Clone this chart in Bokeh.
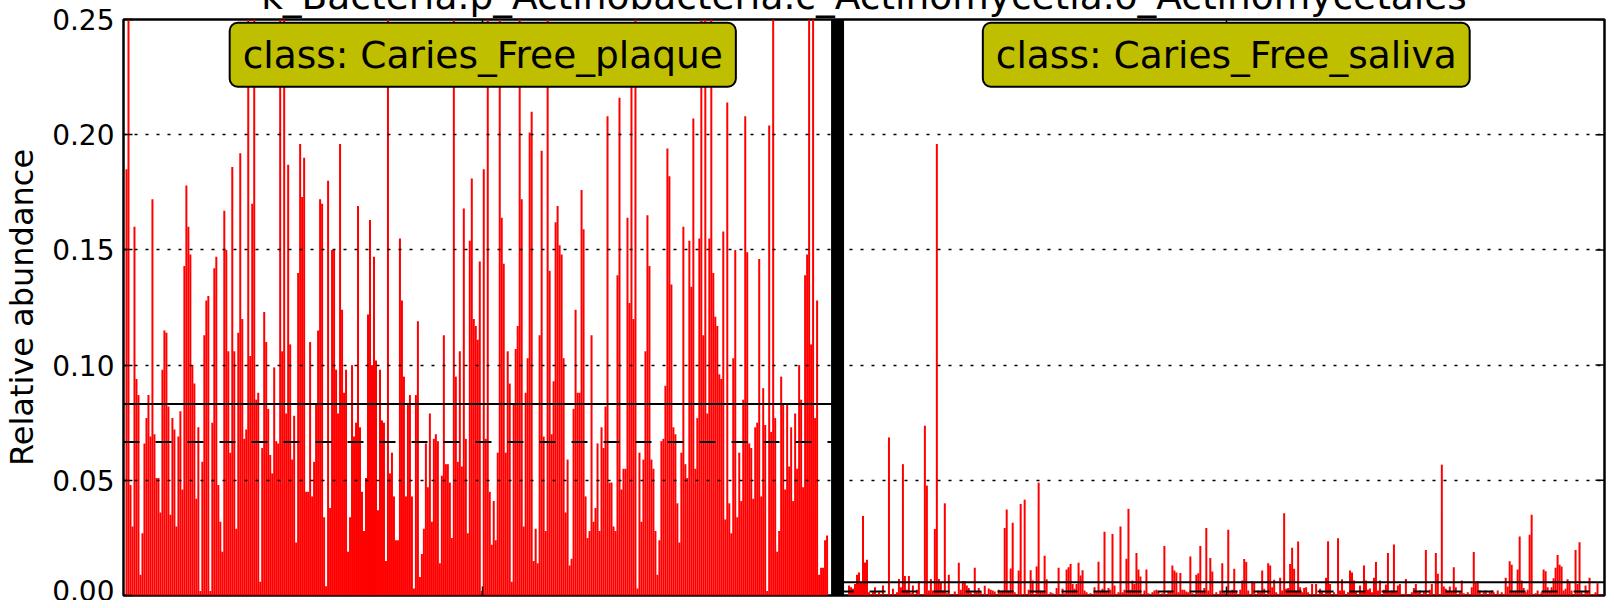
from bokeh.plotting import figure
from bokeh.models import Range1d, FixedTicker, LinearAxis, Label, ColumnDataSource
from bokeh.embed import file_html
from bokeh.resources import INLINE

title_text = "k_Bacteria.p_Actinobacteria.c_Actinomycetia.o_Actinomycetales"
class_names = ["Caries_Free_plaque", "Caries_Free_saliva"]
y_label = "Relative abundance"
y_ticks = [0.0, 0.05, 0.10, 0.15, 0.20, 0.25]
y_tick_labels = ["0.00", "0.05", "0.10", "0.15", "0.20", "0.25"]

# relative abundance per sample, in thousandths (x 1000)
plaque_x1000 = [
    185, 270, 48, 30, 160, 94, 87, 9, 27, 66, 77, 87, 69, 172, 70, 51, 51, 36, 98, 115,
    114, 82, 35, 77, 72, 30, 69, 80, 46, 143, 178, 160, 148, 100, 92, 42, 73, 2, 58, 113,
    128, 130, 2, 75, 142, 147, 48, 32, 19, 167, 150, 106, 62, 186, 106, 29, 114, 192, 120, 68,
    72, 300, 104, 170, 300, 85, 88, 6, 64, 123, 110, 81, 61, 53, 99, 67, 66, 300, 106, 300, 79,
    187, 109, 59, 78, 23, 140, 196, 173, 190, 45, 45, 110, 43, 58, 83, 115, 172, 170, 34, 4,
    180, 38, 150, 150, 98, 79, 196, 124, 88, 98, 19, 34, 100, 69, 75, 169, 73, 45, 28, 51,
    122, 163, 100, 147, 102, 37, 98, 76, 75, 15, 300, 53, 62, 43, 24, 24, 155, 128, 95, 43,
    83, 87, 43, 3, 87, 119, 8, 18, 29, 66, 47, 79, 32, 68, 70, 67, 14, 52, 113, 57,
    57, 49, 25, 300, 95, 58,
    106, 56, 168, 68, 27, 154, 181, 120, 117, 111, 145, 2, 185, 68, 300, 45, 22, 41, 24, 62,
    300, 164, 144, 62, 106, 92, 6, 83, 107, 117, 300, 172, 30, 88, 103, 201, 210, 15, 29, 14,
    113, 193, 69, 28, 300, 141, 70, 93, 162, 169, 152, 148, 103, 36, 59, 13, 16, 81, 124, 88,
    88, 176, 159, 43, 25, 28, 113, 32, 38, 66, 28, 73, 64, 82, 208, 49, 49, 30, 28, 139,
    216, 46, 55, 55, 164, 127, 221, 120, 300, 3, 62, 32,
    59, 106, 165, 143, 59, 55, 28, 9, 24, 67, 68, 91, 194, 182, 135, 73, 70, 40, 23, 62,
    160, 57, 51, 154, 134, 207, 55, 77, 155, 300, 113, 300, 79, 155, 300, 140, 121, 117, 96, 94,
    158, 33, 214, 40, 27, 103, 150, 34, 62, 41, 85, 208, 149, 66, 64, 42, 73, 75, 146, 43,
    90, 74, 2, 204, 71, 300, 77, 19, 28, 95, 83, 46, 83, 56, 73, 41, 79, 55, 100, 85,
    47, 139, 148, 300, 109, 300, 77, 128, 9, 12, 12, 24, 26,
]
saliva_x1000 = [
    4.3, 3.6, 2.9, 5, 9, 10, 6, 34.5, 14.3, 15.5, 1.4, 0.7, 1.4, 3.6, 0.7, 1.4, 0.4, 4.3, 0.4, 0.4,
    68.6, 0.4, 2.9, 0.4, 1.4, 7.2, 3.6, 57, 8.5, 2.5, 8.5, 1, 4.3, 0.4, 2.5, 6.2, 0.4, 0.4, 73.7, 47.7,
    2.2, 7.2, 2.2, 28.9, 196, 7.2, 5.8, 2.2, 40, 1, 9, 0.7, 0.4, 1.7, 0.4, 14.2, 2.5, 6.2, 6.2, 4.3,
    3.3, 1.4, 0.4, 12, 1.4, 3.3, 1.4, 0.4, 4.2, 0.4, 3, 2.5, 2.2, 1.7, 0.4, 2.5, 1.4, 2.2, 29.3, 37.3,
    2.2, 11.7, 31.6, 1.4, 0.7, 10.8, 39.7, 0.7, 41.6, 0.4, 2.5, 11, 6.5, 0.7, 12.6, 49, 2.2, 1.4, 17.3, 7,
    0.4, 1.4, 1, 0.4, 3.3, 12, 0.4, 2.9, 1, 11.3, 12.3, 13.7, 5, 2.9, 5, 14.2, 8.7, 11, 2.2, 1.4,
    0.4, 1, 0.4, 3.6, 1.4, 14.7, 2.2, 2.9, 27.7, 1.4, 3.3, 2.5, 26.7, 4.3, 0.4, 1.4, 29.9, 1.4, 2.5, 15.9,
    37.6, 2.5, 6.5, 5, 18.5, 11.3, 8.2, 0.4, 2.2, 11.3, 1, 0.4, 1.4, 2.2, 2.5, 1.7, 0.4, 1, 21.5, 0.4,
    2.2, 1.7, 13, 10.8, 10, 1.4, 9.8, 2.5, 2.5, 1.7, 1.4, 16.9, 1, 0.4, 9, 9.7, 21.5, 1.4, 3.3, 29.3,
    2.2, 16.3, 10.4, 0.4, 1.4, 0.4, 2.2, 14, 1.4, 0.4,
    28.5, 1.4, 2.5, 11.6, 2.2, 0.4, 2.5, 6.5, 15.8, 14.5, 2.2, 0.4, 6.2, 5.8, 0.4, 2.2, 1.4, 10.8, 2.9,
    0.4, 14, 13, 3.6, 6.8, 1.4, 0.4, 7.7, 2.2, 35.7, 2.9, 3.3, 13.7, 20.7, 11.6, 2.2, 23.4, 3.6, 1.4, 3.3,
    3.6, 1.4, 0.4, 5, 0.4, 5, 0.4, 2.9, 1.4, 0.4, 7.7, 23.6, 5, 0.4, 1.4, 0.4, 24.9, 2.2, 7, 2.2,
    0.4, 1.4, 10.8, 10, 6.5, 1.4, 0.4, 4.3, 1.4, 13, 6.5, 2.5, 3, 1.4, 7.7, 14.5, 2.2, 6.5, 0.4, 2.5,
    4.8, 18.4, 1.4, 2.2, 22.1, 1.4, 4.3, 5, 0.4, 0.4, 7.2, 0.4, 0.4, 1.4, 3.3, 5, 1.4, 2.2, 0.4, 1.4,
    19.8, 0.4, 2.5, 5, 0.4, 18.5, 9.4, 0.4, 56.8, 3.9, 2.9, 2.2, 3.9, 1.4, 12.3, 3.6, 0.4, 1.4, 6.5, 1,
    0.4, 1.4, 0.4, 3.6, 18.9, 5.8, 6.2, 2.2, 0.4, 1.4, 2.2, 0.4, 1.4, 2.2, 1.4, 0.4, 2.2, 0.4, 1.4, 0.4,
    7.7, 3.9, 14.9, 13.4, 1.4, 2.2, 11.3, 25.6, 6.5, 3.3, 1.4, 2.5, 26.4, 35.1, 0.4, 1, 2.2, 0.4, 1.4, 11.3,
    10.5, 3.6, 2.2, 3.6, 7.5, 12, 17.6, 13.4, 12.6, 2.2, 2.9, 7, 6.2, 2.2, 0.4, 19.8, 5, 23.1, 1.4, 0.4,
    4.3, 2.2, 7.7, 0.4, 0.4, 1.4, 5.3, 0.4, 0.4, 0.4,
]
class_mean = [0.0831, 0.0057]
class_median = [0.0666, 0.0017]

FONT = "DejaVu Sans"
BAR_COLOR = "#ff0000"
BOX_COLOR = "#bfbf00"

SHIFT = 31                      # canvas starts this far above the page top
W, H = 1606, 600 + SHIFT
BL, BR, BT, BB = 117, 2, 19 + SHIFT, 5
frame_w = W - BL - BR

plaque = [v / 1000.0 for v in plaque_x1000]
saliva = [v / 1000.0 for v in saliva_x1000]
Np, Ns = len(plaque), len(saliva)
LEAD = 1
GAP = 10
total = LEAD + Np + GAP + Ns
px = frame_w / total                      # pixels per sample slot
sep_l, sep_r = LEAD + Np + 1.5, LEAD + Np + 8.0
sep_c = (sep_l + sep_r) / 2.0

x_pl = [LEAD + i + 0.5 for i in range(Np)]
x_sa = [LEAD + Np + GAP + j + 0.5 for j in range(Ns)]
centers = [LEAD + Np / 2.0 + 3.0, LEAD + Np + GAP + Ns / 2.0]

p = figure(width=W, height=H, output_backend="svg", toolbar_location=None,
           x_range=Range1d(0, total), y_range=Range1d(0, 0.25),
           min_border_left=BL, min_border_right=BR, min_border_top=BT, min_border_bottom=BB,
           background_fill_color="white", border_fill_color="white")
p.styles = {"position": "absolute", "left": "0px", "top": "-%dpx" % SHIFT}
p.outline_line_color = "black"
p.outline_line_width = 2.5
p.outline_line_alpha = 1.0

src_pl = ColumnDataSource(dict(x=x_pl, top=plaque))
src_sa = ColumnDataSource(dict(x=x_sa, top=saliva))
p.vbar(x="x", top="top", bottom=0, width=1.0, source=src_pl,
       fill_color=BAR_COLOR, line_color=None)
p.vbar(x="x", top="top", bottom=0, width=1.0, source=src_sa,
       fill_color=BAR_COLOR, line_color=None)

# mean (solid) and median (dashed) per class
p.segment(x0=[0, sep_c], x1=[sep_c, total], y0=class_mean, y1=class_mean,
          line_color="black", line_width=2)
p.segment(x0=[0, sep_c], x1=[sep_c, total], y0=class_median, y1=class_median,
          line_color="black", line_width=2, line_dash="16 16")

# class separator
p.quad(left=[sep_l], right=[sep_r], bottom=[-0.01], top=[0.3],
       fill_color="black", line_color=None)

# right-hand inward y ticks (mirror of the left ones)
p.segment(x0=[total - 9.0 / px] * len(y_ticks), x1=[total] * len(y_ticks),
          y0=y_ticks, y1=y_ticks, line_color="black", line_width=1.5)

# axes
yt = FixedTicker(ticks=y_ticks)
xt = FixedTicker(ticks=centers)
hidden = dict(major_label_text_font_size="1px", major_label_text_color=None,
              major_label_standoff=0, axis_line_color=None, major_tick_in=9,
              major_tick_out=0, major_tick_line_width=1.5, minor_tick_line_color=None)

xa = p.xaxis[0]
xa.ticker = xt
for k, v in hidden.items():
    setattr(xa, k, v)

# top axis: inward ticks, and its label serves as the (partly cut) title
top_ax = LinearAxis(ticker=xt, axis_label=title_text, axis_label_standoff=2,
                    axis_label_text_font=FONT, axis_label_text_font_size="37.5px",
                    axis_label_text_font_style="normal", axis_label_text_color="black",
                    **hidden)
p.add_layout(top_ax, "above")

ax = p.yaxis[0]
ax.ticker = yt
ax.major_label_overrides = {t: s for t, s in zip(y_ticks, y_tick_labels)}
ax.major_label_text_font = FONT
ax.major_label_text_font_size = "28px"
ax.major_label_text_color = "black"
ax.major_label_standoff = 9
ax.axis_line_color = None
ax.major_tick_in = 9
ax.major_tick_out = 0
ax.major_tick_line_width = 1.5
ax.minor_tick_line_color = None
ax.axis_label = y_label
ax.axis_label_text_font = FONT
ax.axis_label_text_font_size = "32px"
ax.axis_label_text_font_style = "normal"
ax.axis_label_text_color = "black"
ax.axis_label_standoff = 8

p.xgrid.visible = False
p.ygrid.ticker = yt
p.ygrid.grid_line_color = "black"
p.ygrid.grid_line_width = 1.3
p.ygrid.grid_line_dash = "3 8"
p.ygrid.level = "overlay"

# class labels
for cx, name in zip(centers, class_names):
    p.add_layout(Label(x=cx, y=0.2347, text="class: " + name, text_align="center",
                       text_baseline="middle", text_font=FONT, text_font_size="37.5px",
                       text_color="black", background_fill_color=BOX_COLOR,
                       background_fill_alpha=1.0, border_line_color="black",
                       border_line_width=2, border_radius=8,
                       padding=dict(left=13, right=13, top=10, bottom=10)))

open("out.html", "w").write(file_html(p, INLINE))
